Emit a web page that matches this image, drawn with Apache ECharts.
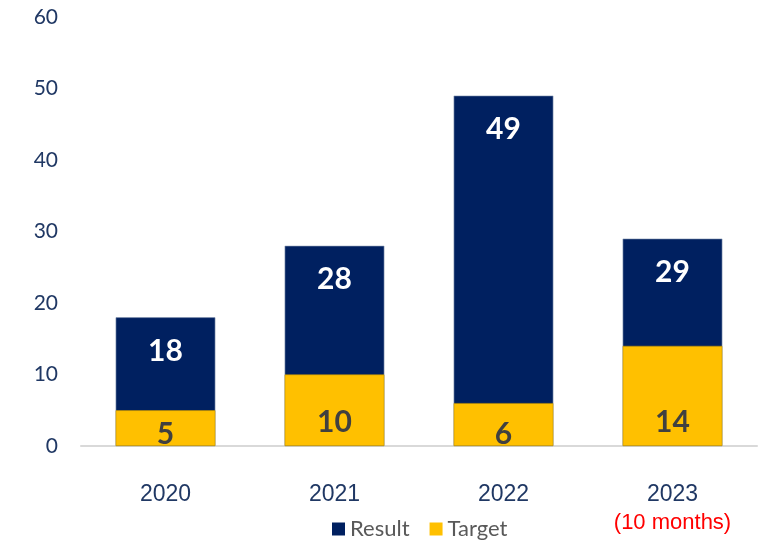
<!DOCTYPE html>
<html><head><meta charset="utf-8">
<script src="https://cdn.jsdelivr.net/npm/echarts@6/dist/echarts.min.js"></script>
<style>html,body{margin:0;padding:0;background:#fff}#c{width:759px;height:540px}</style>
</head><body><div id="c"></div>
<script>
const categories = ['2020', '2021', '2022', '2023'];
const categoryNotes = ['', '', '', '(10 months)'];
const resultValues = [18, 28, 49, 29];
const targetValues = [5, 10, 6, 14];
const yTicks = {min: 0, max: 60, interval: 10};

const chart = echarts.init(document.getElementById('c'));
chart.setOption({
  animation: false,
  grid: {left: 81, right: 2, top: 17, bottom: 94},
  legend: {
    data: ['Result', 'Target'],
    left: 332, top: 518, padding: 0,
    itemWidth: 13, itemHeight: 13, itemGap: 20,
    icon: 'rect',
    itemStyle: {borderWidth: 0},
    textStyle: {fontFamily: 'Lato', fontSize: 22, color: '#595959'}
  },
  xAxis: {
    type: 'category',
    data: categories,
    axisLine: {lineStyle: {color: '#D9D9D9', width: 2}},
    axisTick: {show: false},
    axisLabel: {
      interval: 0,
      margin: 35,
      fontFamily: 'Liberation Sans', fontSize: 23, color: '#203864', lineHeight: 28,
      formatter: function (v, i) {
        const n = categoryNotes[i];
        return n ? v + '\n{note|' + n + '}' : v;
      },
      rich: {note: {fontFamily: 'Liberation Sans', fontSize: 22, color: '#FF0000', lineHeight: 28}}
    }
  },
  yAxis: {
    type: 'value',
    min: yTicks.min, max: yTicks.max, interval: yTicks.interval,
    splitLine: {show: false},
    axisLine: {show: false},
    axisTick: {show: false},
    axisLabel: {margin: 23, fontFamily: 'Lato', fontSize: 21, color: '#203864'}
  },
  series: [
    {
      name: 'Result', type: 'bar', data: resultValues, barWidth: '59%',
      itemStyle: {color: '#002060', borderColor: '#8496B0', borderWidth: 0.6},
      label: {show: true, position: 'insideTop', distance: 19,
        fontFamily: 'Lato', fontWeight: 'bold', fontSize: 30, color: '#FFFFFF'}
    },
    {
      name: 'Target', type: 'bar', barWidth: '59%', barGap: '-100%', z: 3,
      data: targetValues.map(v => ({value: v, label: {distance: v < 8 ? -3 : 9}})),
      itemStyle: {color: '#FFC000', borderColor: '#BF9000', borderWidth: 0.6},
      label: {show: true, position: 'insideBottom',
        fontFamily: 'Lato', fontWeight: 'bold', fontSize: 30, color: '#404040'}
    }
  ]
});
</script>
</body></html>
